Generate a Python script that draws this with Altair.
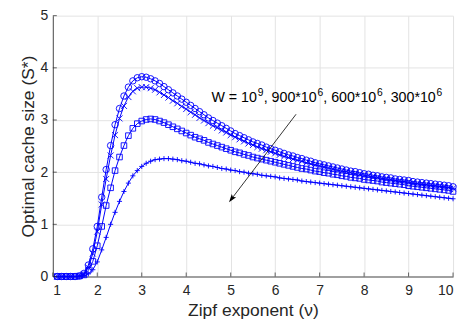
import altair as alt
import pandas as pd

# Zipf exponent sampling (nu), 1.1 .. 10.0 step 0.1
nu = [round(1.1 + 0.1 * i, 1) for i in range(90)]
series = ["W=10^9", "W=900e6", "W=600e6", "W=300e6"]

s_1e9 = [0, 0, 0, 0, 0, 0.01, 0.06, 0.22, 0.53, 0.96,
         1.52, 2.05, 2.51, 2.91, 3.22, 3.46, 3.63, 3.75, 3.81, 3.83,
         3.82, 3.79, 3.75, 3.70, 3.64, 3.58, 3.52, 3.46, 3.40, 3.34,
         3.28, 3.22, 3.16, 3.10, 3.04, 2.99, 2.94, 2.89, 2.84, 2.79,
         2.74, 2.70, 2.66, 2.62, 2.58, 2.55, 2.52, 2.48, 2.45, 2.42,
         2.39, 2.36, 2.33, 2.31, 2.28, 2.26, 2.23, 2.21, 2.18, 2.16,
         2.14, 2.12, 2.10, 2.08, 2.06, 2.04, 2.02, 2.01, 1.99, 1.97,
         1.96, 1.94, 1.93, 1.91, 1.90, 1.89, 1.87, 1.86, 1.85, 1.84,
         1.82, 1.81, 1.80, 1.79, 1.78, 1.77, 1.76, 1.75, 1.74, 1.72]
s_900e6 = [0, 0, 0, 0, 0, 0.01, 0.04, 0.17, 0.44, 0.86,
           1.38, 1.87, 2.32, 2.71, 3.03, 3.27, 3.44, 3.55, 3.61, 3.63,
           3.63, 3.61, 3.58, 3.53, 3.48, 3.43, 3.37, 3.32, 3.26, 3.21,
           3.15, 3.10, 3.04, 2.99, 2.94, 2.89, 2.85, 2.80, 2.76, 2.71,
           2.67, 2.63, 2.59, 2.55, 2.52, 2.48, 2.45, 2.42, 2.39, 2.36,
           2.33, 2.30, 2.28, 2.25, 2.23, 2.21, 2.18, 2.16, 2.14, 2.12,
           2.10, 2.08, 2.06, 2.04, 2.02, 2.01, 1.99, 1.97, 1.96, 1.94,
           1.93, 1.91, 1.90, 1.88, 1.87, 1.86, 1.84, 1.83, 1.82, 1.81,
           1.79, 1.78, 1.77, 1.76, 1.75, 1.74, 1.73, 1.72, 1.71, 1.69]
s_600e6 = [0, 0, 0, 0, 0, 0.01, 0.03, 0.12, 0.29, 0.59,
           0.96, 1.36, 1.70, 2.03, 2.29, 2.51, 2.70, 2.84, 2.93, 2.98,
           3.01, 3.02, 3.01, 2.98, 2.95, 2.91, 2.87, 2.83, 2.79, 2.75,
           2.71, 2.67, 2.64, 2.61, 2.57, 2.54, 2.51, 2.48, 2.45, 2.42,
           2.39, 2.37, 2.34, 2.32, 2.29, 2.27, 2.25, 2.23, 2.21, 2.19,
           2.17, 2.15, 2.13, 2.11, 2.09, 2.07, 2.06, 2.04, 2.02, 2.01,
           1.99, 1.98, 1.96, 1.95, 1.93, 1.92, 1.90, 1.89, 1.88, 1.86,
           1.85, 1.84, 1.83, 1.81, 1.80, 1.79, 1.78, 1.77, 1.76, 1.74,
           1.73, 1.72, 1.71, 1.70, 1.69, 1.68, 1.67, 1.66, 1.65, 1.63]
s_300e6 = [0, 0, 0, 0, 0, 0, 0.02, 0.05, 0.13, 0.28,
           0.51, 0.75, 1.00, 1.23, 1.44, 1.63, 1.79, 1.93, 2.03, 2.11,
           2.17, 2.21, 2.24, 2.25, 2.26, 2.26, 2.25, 2.24, 2.22, 2.21,
           2.19, 2.17, 2.16, 2.14, 2.12, 2.11, 2.09, 2.07, 2.06, 2.04,
           2.03, 2.01, 2.00, 1.98, 1.97, 1.96, 1.94, 1.93, 1.92, 1.91,
           1.89, 1.88, 1.87, 1.86, 1.85, 1.83, 1.82, 1.81, 1.80, 1.79,
           1.78, 1.77, 1.76, 1.75, 1.74, 1.73, 1.72, 1.71, 1.70, 1.69,
           1.68, 1.67, 1.66, 1.65, 1.64, 1.63, 1.62, 1.61, 1.60, 1.59,
           1.58, 1.57, 1.56, 1.55, 1.54, 1.53, 1.52, 1.51, 1.50, 1.49]

x_ticks = [1, 2, 3, 4, 5, 6, 7, 8, 9, 10]
y_ticks = [0, 1, 2, 3, 4, 5]

# annotation pieces (data units): normal-size parts and superscripts
ann_main = ["W = 10", ", 900*10", ", 600*10", ", 300*10"]
ann_main_x = [4.568, 5.742, 7.081, 8.420]
ann_sup = ["9", "6", "6", "6"]
ann_sup_x = [5.610, 6.950, 8.289, 9.628]
ann_y = 3.35
arrow_from = [6.47, 3.11]
arrow_to = [5.03, 1.50]

rows = []
for name, ys in zip(series, [s_1e9, s_900e6, s_600e6, s_300e6]):
    for xv, yv in zip(nu, ys):
        rows.append({"W": name, "nu": xv, "S": yv})
df = pd.DataFrame(rows)

BLUE = "#0000ff"
FONT = "Liberation Sans"
XPATH = "M-1,-1L1,1M-1,1L1,-1"
PLUSPATH = "M-1,0L1,0M0,-1L0,1"
ARROWHEAD = "M0,-1L0.55,0.65L0,0.3L-0.55,0.65Z"

xs = alt.Scale(domain=[1, 10], nice=False, zero=False)
ys_ = alt.Scale(domain=[0, 5], nice=False)

base = alt.Chart(df)
lines = base.mark_line(color=BLUE, strokeWidth=1).encode(
    x=alt.X("nu:Q", scale=xs,
            axis=alt.Axis(values=x_ticks, title="Zipf exponent (\u03bd)", labelPadding=7, titlePadding=4)),
    y=alt.Y("S:Q", scale=ys_,
            axis=alt.Axis(values=y_ticks, title="Optimal cache size (S*)", labelPadding=5, titlePadding=3)),
    detail="W:N",
)
points = base.mark_point(color=BLUE, filled=False, strokeWidth=0.9, opacity=1).encode(
    x="nu:Q", y="S:Q",
    shape=alt.Shape("W:N", scale=alt.Scale(domain=series, range=["circle", XPATH, "square", PLUSPATH]), legend=None),
    size=alt.Size("W:N", scale=alt.Scale(domain=series, range=[42, 26, 30, 46]), legend=None),
)

main_df = pd.DataFrame({"t": ann_main, "x": ann_main_x, "y": [ann_y] * 4})
sup_df = pd.DataFrame({"t": ann_sup, "x": ann_sup_x, "y": [ann_y] * 4})
text_main = alt.Chart(main_df).mark_text(align="left", baseline="alphabetic", fontSize=14.3,
                                         font=FONT, color="black").encode(x="x:Q", y="y:Q", text="t:N")
text_sup = alt.Chart(sup_df).mark_text(align="left", baseline="alphabetic", fontSize=10.3, dy=-6,
                                       font=FONT, color="black").encode(x="x:Q", y="y:Q", text="t:N")

arr_df = pd.DataFrame({"x": [arrow_from[0]], "y": [arrow_from[1]], "x2": [arrow_to[0]], "y2": [arrow_to[1]]})
rule = alt.Chart(arr_df).mark_rule(color="black", strokeWidth=0.8).encode(x="x:Q", y="y:Q", x2="x2:Q", y2="y2:Q")
head = alt.Chart(arr_df).mark_point(shape=ARROWHEAD, angle=217, filled=True, size=100,
                                    color="black", opacity=1).encode(x="x2:Q", y="y2:Q")

xt_df = pd.DataFrame({"t": x_ticks})
yt_df = pd.DataFrame({"t": y_ticks})
ytick_marks = alt.Chart(yt_df).mark_tick(orient="horizontal", size=4, thickness=1, color="#262626").encode(
    y="t:Q", x=alt.value(2))
xtick_marks = alt.Chart(xt_df).mark_tick(orient="vertical", size=4, thickness=1, color="#262626").encode(
    x="t:Q", y=alt.YDatum(0, scale=ys_), yOffset=alt.value(-2))

chart = alt.layer(lines, points, xtick_marks, ytick_marks, rule, head, text_main, text_sup).properties(
    width=402, height=262,
    autosize=alt.AutoSizeParams(type="none"),
    padding={"left": 45, "top": 7, "right": 8, "bottom": 44},
).configure_view(stroke=None).configure_axis(
    domainColor="#262626", domainWidth=0.8, gridColor="#e3e3e3", gridWidth=1,
    ticks=False, tickSize=0, labelColor="#262626", labelFont=FONT, labelFontSize=14,
    titleFont=FONT, titleFontSize=17.5, titleFontWeight="normal", titleColor="#262626",
)

chart.save("out.html", embed_options={"renderer": "svg", "actions": False})
